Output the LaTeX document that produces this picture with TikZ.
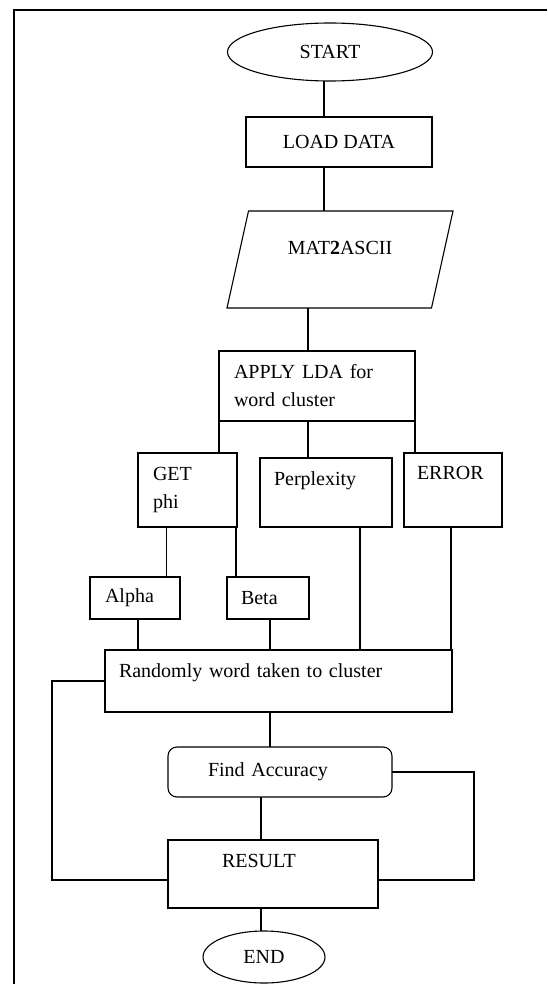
\documentclass[tikz,border=0pt]{standalone}
\usepackage{fontspec}
\setmainfont{Liberation Serif}
\usepackage{tikz}
\usetikzlibrary{shapes.geometric, positioning, calc}

\begin{document}
\begin{tikzpicture}[
    x=1pt, y=-1pt,
    every node/.style={font=\fontsize{20}{28}\selectfont},
    line/.style={line width=1.1pt},
    terminal/.style={ellipse, draw, line width=1.1pt, inner sep=0pt, outer sep=0pt},
    process/.style={rectangle, draw, line width=1.1pt, inner sep=0pt, outer sep=0pt, anchor=north west},
    leftbox/.style={process, align=left, inner xsep=#1}
]
\useasboundingbox (0,0) rectangle (547,984);
\draw[line] (14,984) -- (14,10) -- (547,10);

\node[terminal, minimum width=205pt, minimum height=58pt] (start) at (330,52) {START};
\node[process, minimum width=186pt, minimum height=50pt] (load) at (246,117) {LOAD DATA};
\node[trapezium, draw, line width=1.1pt, inner sep=0pt, outer sep=0pt, trapezium left angle=60, trapezium right angle=120, trapezium stretches body, minimum width=226pt, minimum height=97pt, text depth=24pt] (mat) at (340,259.5) {MAT\textbf{2}ASCII};
\node[leftbox=15pt, minimum width=196pt, minimum height=70pt, text width=166pt] (apply) at (219,351) {APPLY LDA for\\word cluster};
\node[leftbox=15pt, minimum width=99pt, minimum height=74pt, text width=69pt] (get) at (138,453) {GET\\phi};
\node[leftbox=14pt, minimum width=132pt, minimum height=69pt, text width=104pt, text depth=28pt] (perp) at (260,458) {Perplexity};
\node[leftbox=13pt, minimum width=98pt, minimum height=74pt, text width=72pt, text depth=35pt] (err) at (404,453) {ERROR};
\node[leftbox=15pt, minimum width=90pt, minimum height=42pt, text width=60pt] (alpha) at (90,577) {Alpha};
\node[leftbox=14pt, minimum width=82pt, minimum height=42pt, text width=54pt] (beta) at (227,577) {Beta};
\node[leftbox=14pt, minimum width=347pt, minimum height=62pt, text width=319pt, text depth=21pt] (rand) at (105,650) {Randomly word taken to cluster};
\node[leftbox=40pt, rounded corners=9pt, minimum width=224pt, minimum height=50pt, text width=144pt] (find) at (168,747) {Find Accuracy};
\node[leftbox=54pt, minimum width=210pt, minimum height=68pt, text width=102pt, text depth=27pt] (result) at (168,840) {RESULT};
\node[terminal, minimum width=122pt, minimum height=52pt] (end) at (264,957) {END};

\draw[line] ([xshift=-6pt]start.south) -- ([xshift=-6pt]start.south |- load.north);
\draw[line] ([xshift=-15pt]load.south) -- ([xshift=-15pt]load.south |- mat.north);
\draw[line] ([xshift=-9pt]apply.north) -- ([xshift=-9pt]apply.north |- mat.south);
\draw[line] (apply.south west) -- (apply.south west |- get.north);
\draw[line] ([xshift=-9pt]apply.south) -- ([xshift=-9pt]apply.south |- perp.north);
\draw[line] (apply.south east) -- (apply.south east |- err.north);
\draw[line] ([xshift=-21pt]get.south) -- ([xshift=-21pt]get.south |- alpha.north);
\draw[line] ([xshift=-1pt]get.south east) -- ([xshift=-1pt]get.south east |- beta.north);
\draw[line] ([xshift=3pt]alpha.south) -- ([xshift=3pt]alpha.south |- rand.north);
\draw[line] ([xshift=2pt]beta.south) -- ([xshift=2pt]beta.south |- rand.north);
\draw[line] ([xshift=34pt]perp.south) -- ([xshift=34pt]perp.south |- rand.north);
\draw[line] ([xshift=-2pt]err.south) -- ([xshift=-2pt]err.south |- rand.north);
\draw[line] (rand.west) -- ++(-53,0) |- ([yshift=-6pt]result.west);
\draw[line] ([xshift=-8.5pt]rand.south) -- ([xshift=-8.5pt]rand.south |- find.north);
\draw[line] (find.east) -- ++(82,0) |- ([yshift=-6pt]result.east);
\draw[line] ([xshift=-19pt]find.south) -- ([xshift=-19pt]find.south |- result.north);
\draw[line] ([xshift=-12pt]result.south) -- ([xshift=-12pt]result.south |- end.north);
\end{tikzpicture}
\end{document}
